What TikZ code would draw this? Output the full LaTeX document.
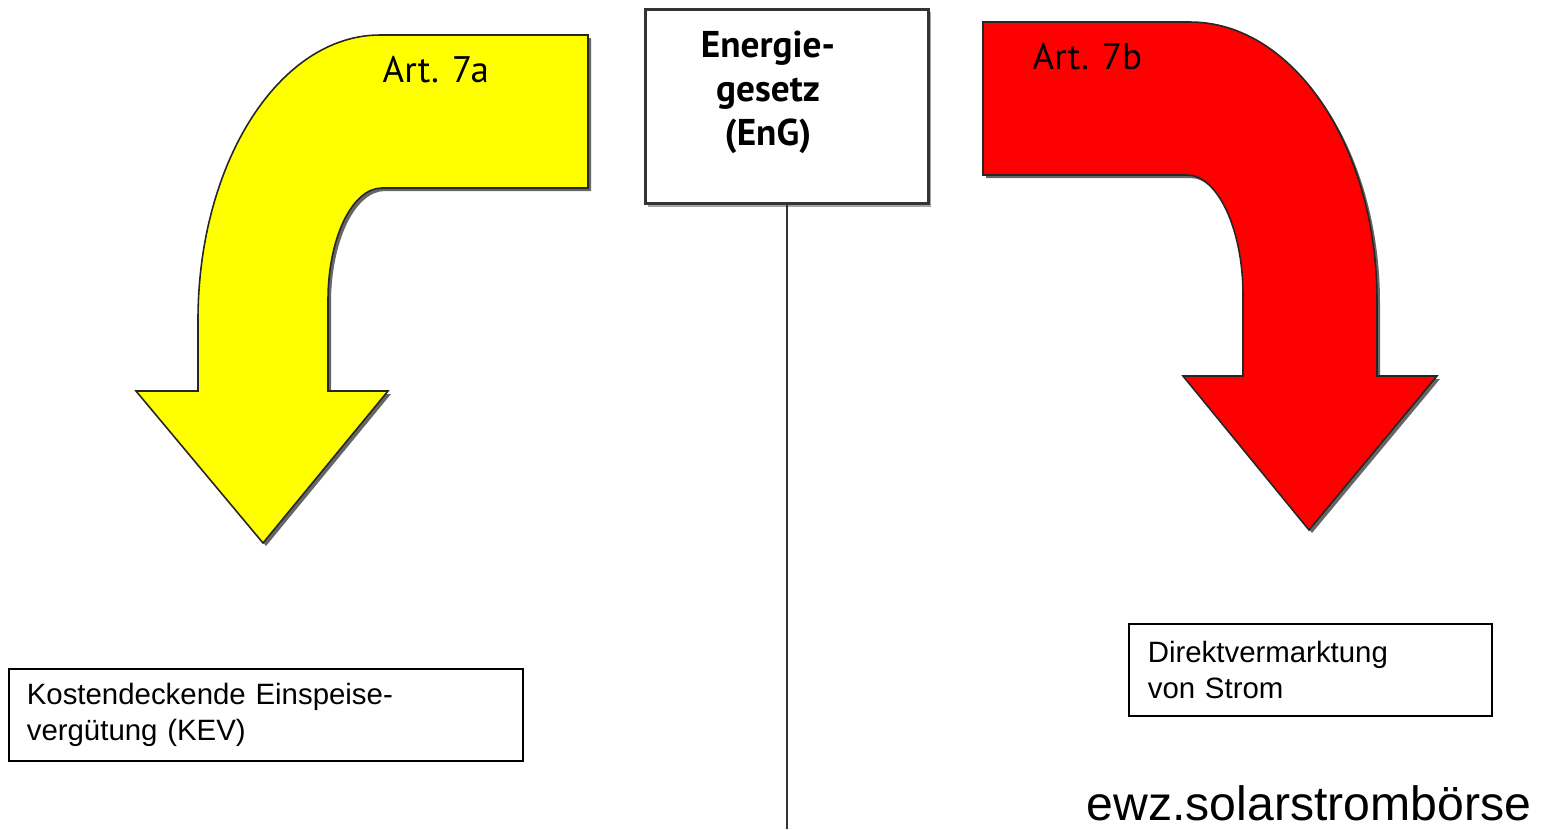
\documentclass[tikz,border=0pt]{standalone}
\usepackage{fontspec}
\setmainfont{Liberation Sans}
\newfontfamily\myr{PT Sans}
\definecolor{ylw}{RGB}{255,255,0}
\definecolor{rd}{RGB}{255,0,0}
\begin{document}
\begin{tikzpicture}[x=0.01cm,y=-0.01cm,
  shad/.style={fill=black!60, draw=none},
  abody/.style={draw=black!85, line width=0.45pt},
  arttxt/.style={font=\myr\fontsize{10.5}{12}\selectfont, inner sep=0pt},
  txtbox/.style={draw=black, line width=0.45pt, align=left, inner ysep=0pt,
    font=\fontsize{8.36}{10.2}\selectfont, minimum height=0.92cm},
  engbox/.style={draw=black!80, line width=0.85pt, fill=white, minimum width=2.83cm, minimum height=1.94cm, inner sep=0pt},
  conn/.style={draw=black!80, line width=0.7pt}]
\useasboundingbox (0,0) rectangle (1541,829);
\def\yarrow{(588,35) -- (380,35) .. controls (279.5,35) and (198,162.6) .. (198,320) -- (198,391) -- (136,391) -- (263,543) -- (388,391) -- (328,391) -- (328,300) .. controls (328,238.1) and (352.2,188) .. (382,188) -- (588,188) -- cycle}
\def\rarrow{(983,22) -- (1190,22) .. controls (1293.3,22) and (1377,146.5) .. (1377,300) -- (1377,376) -- (1437,376) -- (1309,530) -- (1183,376) -- (1243,376) -- (1243,295) .. controls (1243,228.7) and (1217.4,175) .. (1187,175) -- (983,175) -- cycle}
% yellow arrow
\path[shad, shift={(3,3)}] \yarrow;
\path[abody, fill=ylw] \yarrow;
\node[arttxt, anchor=base west] (a7a) at (382,82) {Art. 7a};
% red arrow
\path[shad, shift={(3,3)}] \rarrow;
\path[abody, fill=rd] \rarrow;
\node[arttxt, anchor=base west] (a7b) at (1032,69) {Art. 7b};
% Energiegesetz box
\fill[black!35] (648,12) rectangle (931,207);
\node[engbox, anchor=north west] (eng) at (644,8) {};
\node[font=\myr\bfseries\fontsize{10.6}{12.6}\selectfont, align=center, inner sep=0pt, anchor=north] (engtxt) at (768,30) {Energie-\\gesetz\\(EnG)};
\coordinate (lineend) at (785,829);
\draw[conn] (eng.south) -- (eng.south |- lineend);
% text boxes
\node[txtbox, anchor=north west, text width=4.78cm, inner xsep=0.18cm] (kev) at (8,668) {Kostendeckende Einspeise-\\vergütung (KEV)};
\node[txtbox, anchor=north west, text width=3.25cm, inner xsep=0.19cm] (dv) at (1128,623) {Direktvermarktung\\von Strom};
\node[font=\fontsize{13.7}{16}\selectfont, anchor=base east, inner sep=0pt] (ewz) at (1532,820) {ewz.solarstrombörse};
\end{tikzpicture}
\end{document}
